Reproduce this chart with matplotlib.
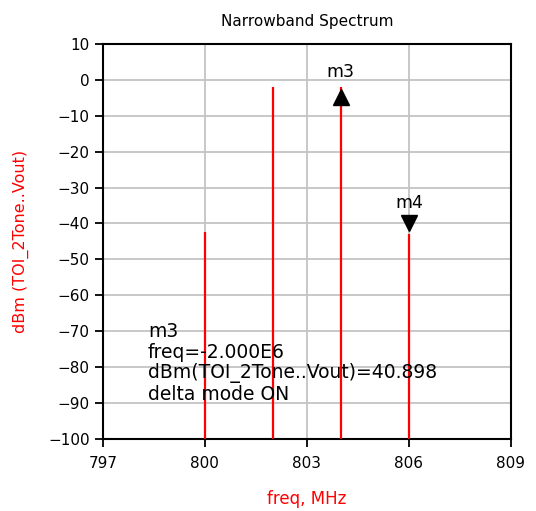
import matplotlib
matplotlib.use("Agg")
import matplotlib.pyplot as plt
import matplotlib.transforms as mtransforms

# spectral lines (MHz, dBm)
freq = [800, 802, 804, 806]
power = [-42.5, -2.0, -2.0, -42.9]

# markers
mk_names = ["m3", "m4"]
mk_freq = [804, 806]
mk_power = [-2.0, -42.9]

xticks = [797, 800, 803, 806, 809]
yticks = list(range(-100, 11, 10))

info = ["m3", "freq=-2.000E6", "dBm(TOI_2Tone..Vout)=40.898", "delta mode ON"]

fig = plt.figure(figsize=(5.36, 5.11), dpi=100)
ax = fig.add_axes([0.192, 0.141, 0.761, 0.773])

ax.set_xlim(797, 809)
ax.set_ylim(-100, 10)
ax.set_xticks(xticks)
ax.set_yticks(yticks)
ax.grid(True, color="#c4c4c4", lw=1.3)
ax.set_axisbelow(True)
for s in ax.spines.values():
    s.set_linewidth(1.5)
ax.tick_params(direction="out", length=6, width=1.3, labelsize=11)
ax.tick_params(axis="x", pad=6)

ax.vlines(freq, -100, power, colors="red", lw=1.6, zorder=3)

# marker triangles: tip on the data point
dy = 7.5 / 72
up = ax.transData + mtransforms.ScaledTranslation(0, -dy, fig.dpi_scale_trans)
dn = ax.transData + mtransforms.ScaledTranslation(0, dy, fig.dpi_scale_trans)
ax.plot(mk_freq[0], mk_power[0], "^", color="black", ms=11, transform=up, zorder=4, clip_on=False)
ax.plot(mk_freq[1], mk_power[1], "v", color="black", ms=11, transform=dn, zorder=4, clip_on=False)
ax.annotate(mk_names[0], (mk_freq[0], mk_power[0]), xytext=(0, 15), textcoords="offset pixels",
            ha="center", va="center", fontsize=12.5)
ax.annotate(mk_names[1], (mk_freq[1], mk_power[1]), xytext=(0, 31), textcoords="offset pixels",
            ha="center", va="center", fontsize=12.5)

ax.text(0.11, 0.295, "\n".join(info), transform=ax.transAxes, ha="left", va="top",
        fontsize=13.5, linespacing=1.1)

ax.set_title("Narrowband Spectrum", fontsize=11, pad=13)
ax.set_xlabel("freq, MHz", color="red", fontsize=12, labelpad=14)
ax.set_ylabel("dBm (TOI_2Tone..Vout)", color="red", fontsize=11.5, labelpad=14)

fig.savefig("out.png", dpi=100)
